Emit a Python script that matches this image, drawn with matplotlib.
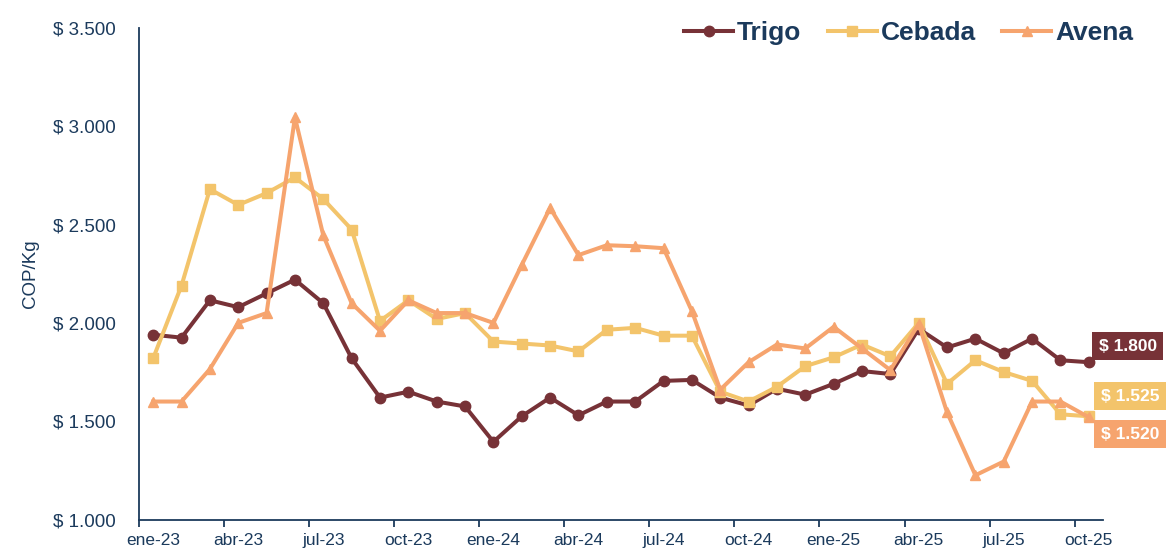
import matplotlib
matplotlib.use("Agg")
import matplotlib.pyplot as plt
from matplotlib.ticker import FuncFormatter, FixedLocator
import numpy as np

plt.rcParams['font.family'] = ['Liberation Sans', 'DejaVu Sans']

months = ['ene', 'feb', 'mar', 'abr', 'may', 'jun', 'jul', 'ago', 'sep', 'oct', 'nov', 'dic']
periods = [f"{m}-{y}" for y in ('23', '24', '25') for m in months][:34]

trigo = [1940, 1925, 2115, 2080, 2150, 2220, 2100, 1820, 1620, 1650, 1600, 1575,
         1395, 1525, 1620, 1530, 1600, 1600, 1705, 1710, 1620, 1580, 1665, 1635,
         1690, 1755, 1740, 1970, 1875, 1920, 1845, 1920, 1810, 1800]
cebada = [1820, 2190, 2680, 2600, 2660, 2740, 2630, 2475, 2010, 2115, 2020, 2050,
          1905, 1895, 1885, 1855, 1965, 1975, 1935, 1935, 1650, 1600, 1675, 1780,
          1825, 1890, 1830, 2000, 1690, 1810, 1750, 1705, 1535, 1525]
avena = [1600, 1600, 1765, 2000, 2050, 3045, 2445, 2100, 1960, 2115, 2050, 2050,
         2000, 2295, 2585, 2345, 2395, 2390, 2380, 2060, 1660, 1800, 1890, 1870,
         1980, 1870, 1760, 1995, 1545, 1225, 1295, 1600, 1600, 1520]

series = ['Trigo', 'Cebada', 'Avena']
colors = ['#773237', '#F3C46B', '#F6A46E']
markers = ['o', 's', '^']
msizes = [7.5, 7, 7.5]
label_offsets = [(39, 16), (41, 20), (41, -17)]

navy = '#1B3A5C'

W, H = 1167, 551
fig = plt.figure(figsize=(W / 100, H / 100), dpi=100)
ax = fig.add_axes([139 / W, 1 - 519.5 / H, (1103 - 139) / W, (519.5 - 28) / H])

x = np.arange(len(periods))
handles = []
for name, vals, c, m, ms, off in zip(series, [trigo, cebada, avena], colors, markers, msizes, label_offsets):
    h, = ax.plot(x, vals, color=c, lw=2.9, marker=m, ms=ms, mec=c, mfc=c, label=name,
                 clip_on=False)
    handles.append(h)
    last = vals[-1]
    txt = "$ " + f"{last:,.0f}".replace(',', '.')
    ax.annotate(txt, xy=(x[-1], last), xytext=off, textcoords='offset pixels',
                ha='center', va='center', color='white', fontsize=12.5, fontweight='bold',
                bbox=dict(boxstyle='square,pad=0.38', fc=c, ec='none'),
                annotation_clip=False, zorder=10)

ax.set_xlim(-0.5, len(periods) - 0.5)
ax.set_ylim(1000, 3500)
ax.set_yticks(np.arange(1000, 3501, 500))
ax.yaxis.set_major_formatter(FuncFormatter(lambda v, p: "$ " + f"{v:,.0f}".replace(',', '.')))
ax.tick_params(axis='y', length=0, pad=16.5, labelsize=13.5, labelcolor=navy)

ax.xaxis.set_major_locator(FixedLocator(np.arange(-0.5, len(periods) - 1, 3)))
ax.xaxis.set_major_formatter(FuncFormatter(lambda v, p: ''))
ax.xaxis.set_minor_locator(FixedLocator(np.arange(0, len(periods), 3)))
ax.xaxis.set_minor_formatter(FuncFormatter(lambda v, p: periods[int(round(v))]))
ax.tick_params(axis='x', which='major', length=5, width=1.3, color=navy)
ax.tick_params(axis='x', which='minor', length=0, pad=10, labelsize=12.5, labelcolor=navy)

for s in ['top', 'right']:
    ax.spines[s].set_visible(False)
for s in ['left', 'bottom']:
    ax.spines[s].set_color(navy)
    ax.spines[s].set_linewidth(1.3)

ax.set_ylabel('COP/Kg', fontsize=13.5, color=navy)
ax.yaxis.set_label_coords(-100 / 964, 0.5)

leg = fig.legend(handles=handles, loc='center right', bbox_to_anchor=(1133 / W, 1 - 33 / H),
                 ncol=3, frameon=False, borderpad=0, borderaxespad=0,
                 handlelength=1.85, handletextpad=0.15, columnspacing=1.0,
                 prop={'size': 19, 'weight': 'bold'})
for t in leg.get_texts():
    t.set_color(navy)

fig.savefig('out.png', dpi=100)
